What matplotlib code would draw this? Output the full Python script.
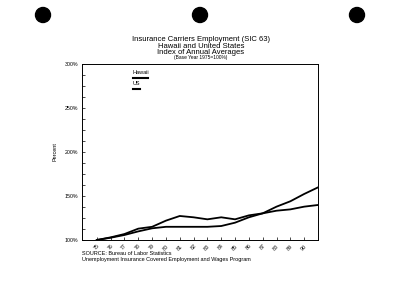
import numpy as np
import matplotlib; matplotlib.use("Agg")
import matplotlib.pyplot as plt
from matplotlib.patches import Circle
from matplotlib.ticker import MultipleLocator, FixedLocator

plt.rcParams["font.family"] = ["Liberation Sans", "DejaVu Sans"]

years = list(range(75, 92))
tick_years = list(range(75, 91))
hawaii = [100, 103, 106.8, 112.9, 115, 122, 127.3, 125.8, 123.5, 125.8, 123.5, 128, 130.3, 133.3, 134.8, 137.9, 139.8]
us = [100, 102.6, 105.7, 109.8, 113.3, 115, 115, 115, 115, 115.9, 119.7, 125.8, 130.3, 137.9, 144, 152.3, 159.8]

fig = plt.figure(figsize=(4, 3.04), dpi=100)
ax = fig.add_axes([0.204, 0.2105, 0.591, 0.579])
ax.plot(years, hawaii, color="black", lw=1.3)
ax.plot(years, us, color="black", lw=1.3)
ax.set_xlim(73.9, 91); ax.set_ylim(100, 300)
ax.yaxis.set_minor_locator(MultipleLocator(12.5))
ax.set_yticks([100, 150, 200, 250, 300])
ax.set_yticklabels([f"{v}%" for v in [100, 150, 200, 250, 300]], fontsize=3.8)
ax.xaxis.set_major_locator(FixedLocator(tick_years))
ax.set_xticklabels([str(y) for y in tick_years], fontsize=3.8, rotation=45, ha="right", rotation_mode="anchor")
ax.tick_params(direction="in", length=2.5, width=0.5, pad=2.5)
ax.tick_params(which="minor", direction="in", length=2, width=0.5)
for s in ax.spines.values(): s.set_linewidth(0.7)
ax.set_ylabel("Percent", fontsize=4, labelpad=5)

# legend: text with a line beneath
ax.text(0.217, 0.937, "Hawaii", transform=ax.transAxes, fontsize=4, va="bottom")
ax.plot([0.217, 0.282], [0.922, 0.922], transform=ax.transAxes, color="black", lw=1.5)
ax.text(0.217, 0.875, "US", transform=ax.transAxes, fontsize=4, va="bottom")
ax.plot([0.217, 0.247], [0.858, 0.858], transform=ax.transAxes, color="black", lw=1.5)

fig.text(0.502, 1 - 39.5/304, "Insurance Carriers Employment (SIC 63)", ha="center", va="center", fontsize=5.5)
fig.text(0.502, 1 - 46/304, "Hawaii and United States", ha="center", va="center", fontsize=5.5)
fig.text(0.502, 1 - 52.5/304, "Index of Annual Averages", ha="center", va="center", fontsize=5.5)
fig.text(0.502, 1 - 58/304, "(Base Year 1975=100%)", ha="center", va="center", fontsize=3.5)
fig.text(82/400, 1 - 253.3/304, "SOURCE: Bureau of Labor Statistics", ha="left", va="center", fontsize=4)
fig.text(82/400, 1 - 259.3/304, "Unemployment Insurance Covered Employment and Wages Program", ha="left", va="center", fontsize=4)

for x in (43, 200, 357):
    fig.add_artist(Circle((x/100, (304 - 15)/100), 0.075, transform=fig.dpi_scale_trans, color="black"))

fig.savefig("out.png", dpi=100)
